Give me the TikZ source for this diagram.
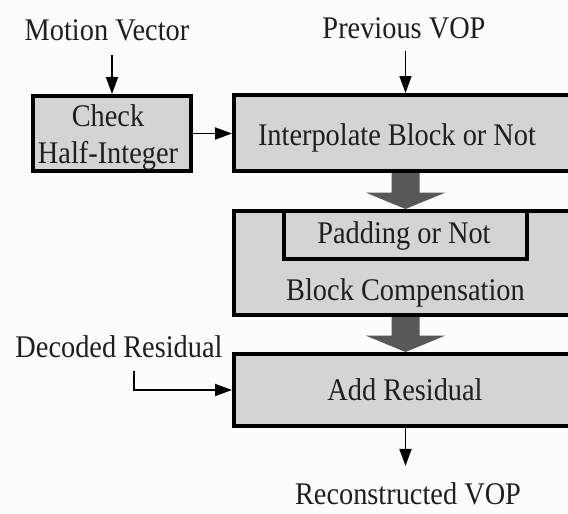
\documentclass[tikz,border=0pt]{standalone}
\usepackage{fontspec}
\setmainfont{Liberation Serif}[FakeStretch=0.9]
\usetikzlibrary{arrows.meta,calc}
\definecolor{boxfill}{RGB}{212,212,212}
\definecolor{bigarrow}{RGB}{88,88,88}
\definecolor{paper}{RGB}{252,252,252}
\definecolor{ink}{RGB}{30,30,30}
% wide block arrow from the bottom of one box to the top of the next
\newcommand\flowarrow[2]{%
  \fill[bigarrow] let \p1=(#1), \p2=(#2) in
    (\x1-14pt,\y1) -- (\x1+14pt,\y1) -- (\x1+14pt,\y2+16.5pt) --
    (\x1+40pt,\y2+16.5pt) -- (\x1,\y2) -- (\x1-40pt,\y2+16.5pt) --
    (\x1-14pt,\y2+16.5pt) -- cycle;}
\begin{document}
\begin{tikzpicture}[x=1pt,y=-1pt,
  box/.style={draw=black,line width=3.6pt,fill=boxfill,rectangle,
    inner sep=0pt,outer sep=1.8pt,anchor=north west},
  txt/.style={font=\fontsize{31.5}{37}\selectfont,inner sep=0pt,
    anchor=base,text=ink},
  arr/.style={line width=1.8pt,draw=black,
    -{Triangle[length=17pt,width=12pt]}},
]
\useasboundingbox (0,0) rectangle (568,514);
\fill[paper] (0,0) rectangle (568,514);
\clip (0,0) rectangle (568,514);

\coordinate (axis) at (405.5,0);
\coordinate (dbend) at (134,390);

% boxes
\node[box,minimum width=158.4pt,minimum height=75.4pt] (check) at (31,94) {};
\node[box,minimum width=340.4pt,minimum height=76.4pt] (interp) at (232,93) {};
\node[box,minimum width=340.4pt,minimum height=104.4pt] (bc) at (232,209) {};
\node[box,minimum width=243.4pt,minimum height=48.4pt] (pad) at (282,209) {};
\node[box,minimum width=340.4pt,minimum height=72.4pt] (add) at (232,352) {};

% texts
\node[txt] (mv) at (107,40) {Motion Vector};
\node[txt] (pv) at (404,38) {Previous VOP};
\node[txt] (checkt) at (108,126) {Check};
\node[txt] (halft) at (108,163) {Half-Integer};
\node[txt] (interpt) at (397,145) {Interpolate Block or Not};
\node[txt] (padt) at (404,243) {Padding or Not};
\node[txt] (bct) at (405.5,300) {Block Compensation};
\node[txt] (dec) at (119,357) {Decoded Residual};
\node[txt] (addt) at (405,400) {Add Residual};
\node[txt] (rec) at (408,504) {Reconstructed VOP};

% thin connectors
\draw[arr,shorten <=14pt] (mv.south -| check.north) -- (check.north);
\draw[arr,shorten <=12pt] (pv.south -| axis) -- (interp.north -| axis);
\draw[arr] (check.east) -- (check.east -| interp.west);
\draw[arr,shorten <=13pt] (dec.south -| dbend) -- (dbend) -- (add.west);
\draw[arr,shorten >=16pt] (add.south -| axis) -- (rec.north -| axis);

% block arrows
\flowarrow{interp.south -| axis}{bc.north -| axis}
\flowarrow{bc.south -| axis}{add.north -| axis}
\end{tikzpicture}
\end{document}
